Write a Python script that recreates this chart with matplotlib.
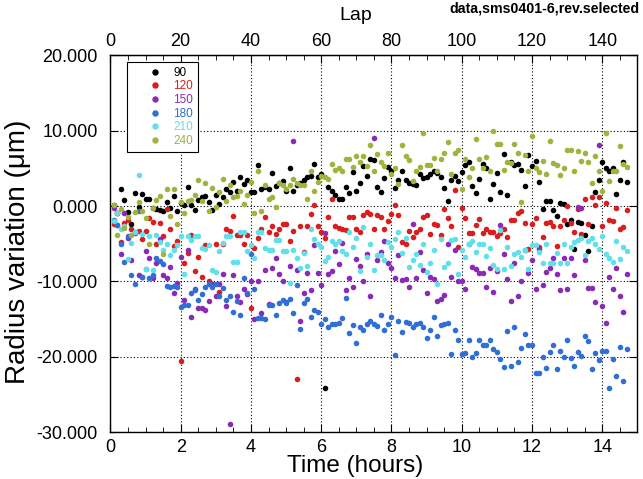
import numpy as np
import matplotlib.pyplot as plt
from matplotlib.ticker import MultipleLocator, FormatStrFormatter
from matplotlib.lines import Line2D

plt.rcParams['font.family'] = ['Liberation Sans', 'DejaVu Sans']
plt.rcParams['axes.unicode_minus'] = False

# one reading per lap, lap 1..147 ; 10 laps per hour
laps = list(range(1, 148))
hours_per_lap = 0.1

s90 = [0.2, -0.9, 2.2, 0.8, -0.8, -2.4, 1.7, -0.1, 1.6, 0.9,
       1.0, -0.2, -0.4, -0.5, -0.6, 0.5, -0.3, 1.3, -0.7, 0.4,
       0.2, 2.5, 0.2, -0.5, 0.8, 1.2, 1.4, 0.6, -0.5, 1.5,
       0.3, 1.2, 2.2, 1.8, 3.2, 2.0, 3.8, 2.9, 3.5, 1.9,
       1.9, 5.4, 2.3, 2.5, 2.3, 4.4, 2.6, 3.0, 3.3, 2.0,
       5.1, 2.0, 2.8, 3.0, 3.5, 3.8, 4.0, 5.6, 3.8, 4.2,
       -24.1, 2.5, 2.0, 1.5, 0.9, 1.0, 2.5, 1.7, 4.5, 2.0,
       3.0, 5.3, 4.0, 6.2, 6.1, 2.55, 1.8, 3.7, 5.25, 4.6,
       2.4, 3.5, 4.6, 3.5, 3.0, 2.9, 2.8, 4.3, 3.7, 3.9,
       4.2, 4.6, 4.4, 3.9, 2.4, 0.7, 3.4, 4.0, 3.3, 4.5,
       5.4, 5.8, 2.6, 1.7, 3.6, 5.6, 5.0, 0.9, 2.9, 4.4,
       1.9, 6.9, 1.5, 5.9, 5.4, 5.6, 4.8, 2.6, 6.8, 5.3,
       6.0, 3.2, -0.4, 0.7, 0.7, -0.5, -1.3, 0.4, 0.3, -2.4,
       -1.9, -5.7, -2.1, -2.2, -3.9, -6.0, -2.7, 1.9, 3.4, 5.8,
       5.0, 4.7, 5.1, 1.6, 3.5, 5.8, 3.2]

s120 = [-2.4, -0.9, -4.8, -2.3, -1.9, -3.0, -3.6, -3.3, -4.4, -3.3,
        -1.6, -2.1, -5.0, -2.2, -4.0, -0.4, -3.1, -5.3, -4.6, -20.6,
        -7.5, -6.2, -3.9, -8.6, -6.7, -9.4, -5.2, -9.9, -10.3, -5.1,
        -11.4, -5.1, -3.1, -3.3, -1.3, -3.8, -3.8, -5.0, -3.8, -13.6,
        -5.6, -4.2, -3.1, -1.5, -3.4, -2.6, -3.7, -3.0, -2.4, -2.4,
        -4.6, -3.3, -23.0, -2.6, -6.1, -2.6, -1.1, 0.2, -2.7, -3.5,
        -4.2, -1.5, 0.9, -2.7, -2.9, -3.0, -3.2, -1.4, -1.4, -3.1,
        -3.4, -1.2, -0.8, -1.1, -3.0, -1.2, -1.5, -3.0, -2.0, -1.1,
        0.2, -1.2, -4.8, -5.0, -3.3, -4.1, -3.4, -3.1, -1.5, -1.2,
        -3.7, -2.4, -2.5, -3.9, -0.4, -1.6, -2.7, 2.1, -5.5, -0.2,
        -1.6, -3.6, -3.6, -2.5, -1.7, -3.6, -3.0, -3.4, -3.5, -4.0,
        -3.6, -3.0, -4.1, -1.9, -1.9, -0.9, -0.7, -2.3, -5.7, -2.4,
        -1.6, -5.5, -4.1, -2.2, -2.1, -2.7, -5.3, -2.6, -1.9, 0.0,
        -2.3, -3.4, -0.4, -3.7, 1.0, -2.4, 1.2, 0.2, 1.2, -2.6,
        0.4, -1.8, -2.0, -0.2, -3.0, -2.8, -0.5]

s150 = [-0.2, -2.5, -6.3, -0.9, -4.2, -7.2, -3.5, -9.1, -9.4, -6.0,
        -6.9, -9.6, -7.5, -4.4, -9.1, -9.6, -8.1, -11.6, -10.2, -6.8,
        -12.5, -5.9, -14.7, -11.0, -13.6, -13.6, -13.8, -12.6, -10.4, -12.0,
        -10.3, -9.0, -13.3, -29.0, -9.2, -12.0, -12.7, -11.0, -11.7, -10.0,
        -15.0, -9.9, -14.2, -8.5, -13.0, -8.2, -6.9, -9.0, -9.9, -12.8,
        -8.0, 8.6, -8.5, -15.3, -11.6, -8.9, -11.2, -5.2, -8.9, -10.5,
        -3.6, -9.0, -8.6, -6.0, -7.7, -4.9, -11.2, -9.5, -10.7, -7.0,
        -8.0, -9.9, -6.3, -12.0, 9.0, -7.2, -6.1, -4.7, -7.5, -8.2,
        -9.5, -6.5, -9.8, -9.7, -10.8, -2.4, -9.5, -6.1, -8.5, -11.5,
        -9.4, -9.7, -12.6, -12.3, -11.8, -5.1, -9.4, -5.8, -10.0, -10.0,
        -11.0, -5.0, -8.1, -8.4, -8.9, -8.9, -10.8, -8.2, -11.4, -8.6,
        -2.5, -6.4, -9.7, -12.6, -7.5, -12.0, -9.9, -5.8, -8.9, -7.1,
        -11.0, -5.7, -10.5, -8.8, -8.2, -6.9, -9.0, -11.1, -6.9, -11.0,
        -6.9, -9.1, -0.1, -0.3, -7.2, -10.9, -10.9, -12.8, 8.1, -13.3,
        -15.5, -9.4, -11.0, -8.2, -12.0, -14.0, -9.0]

s180 = [-1.8, -2.5, -5.0, -7.4, -4.0, -9.2, -10.3, -0.6, -9.4, -8.3,
        -9.5, -9.2, -6.9, -7.3, -7.7, -10.6, -10.7, -10.6, -10.7, -13.4,
        -13.2, -13.2, -11.5, -11.1, -12.5, -11.7, -10.7, -10.4, -10.7, -10.4,
        -12.0, -10.9, -12.5, -11.9, -14.0, -12.6, -14.5, -9.6, -11.6, -6.3,
        -11.0, -14.9, -14.9, -15.0, -13.2, -13.2, -14.4, -12.9, -12.5, -12.9,
        -12.3, -14.2, -10.5, -16.3, -12.9, -12.4, -14.7, -13.8, -14.0, -15.7,
        -15.0, -16.0, -15.7, -15.6, -15.5, -14.9, -12.2, -16.9, -15.8, -18.2,
        -16.0, -16.5, -15.6, -15.3, -15.7, -15.9, -14.4, -16.4, -15.6, -14.7,
        -19.8, -15.2, -16.7, -15.4, -15.5, -16.1, -15.7, -15.5, -16.1, -17.5,
        -16.5, -14.7, -17.3, -15.8, -15.6, -15.5, -19.6, -16.5, -17.8, -19.7,
        -19.5, -17.8, -20.0, -19.5, -17.8, -18.5, -18.5, -17.8, -19.0, -19.4,
        -20.3, -21.4, -16.6, -21.2, -16.1, -20.7, -18.9, -17.0, -18.5, -18.5,
        -22.1, -22.2, -20.0, -21.5, -19.4, -18.5, -21.7, -19.3, -20.0, -17.8,
        -20.2, -21.2, -19.4, -19.9, -17.3, -17.9, -21.7, -19.5, -20.5, -19.3,
        -19.3, -24.1, -20.3, -22.6, -18.7, -23.2, -19.0]

s210 = [-2.0, -0.9, -3.0, -2.6, -7.0, -4.9, -3.5, 4.1, -3.7, -8.3,
        -4.0, -8.5, -3.9, -4.8, -5.8, -5.0, -6.5, -5.8, -5.2, -4.0,
        -9.0, -4.0, -4.5, -4.0, -4.0, -5.6, -5.7, -5.2, -8.5, -8.8,
        -6.0, -4.9, -4.0, -4.0, -7.4, -7.4, -3.4, -3.4, -6.0, -5.2,
        -6.9, -3.5, -3.5, -5.6, -5.8, -5.8, -4.5, -4.5, -6.0, -6.0,
        -10.2, -5.8, -6.9, -8.2, -6.2, -7.9, -3.1, -4.4, -5.0, -5.5,
        -7.3, -6.7, -4.7, -5.1, -4.6, -6.0, -6.3, -3.5, -5.5, -4.2,
        -8.6, -2.8, -6.8, -5.0, -8.5, -6.5, -6.5, -7.1, -4.8, -5.5,
        -4.4, -3.4, -6.2, -4.3, -8.1, -7.2, -6.3, -7.8, -5.0, -8.8,
        -7.5, -5.9, -10.3, -4.4, -8.1, -7.5, -4.5, -4.4, -9.0, -5.9,
        -6.8, -5.1, -4.6, -6.1, -5.0, -5.1, -6.6, -5.6, -7.8, -8.3,
        -3.2, -8.4, -5.4, -8.0, -6.3, -6.1, -6.8, -5.9, -8.4, -5.2,
        -5.2, -6.1, -7.6, -5.0, -7.5, -7.6, -6.2, -7.6, -5.1, -7.5,
        -5.5, -4.8, -4.5, -4.2, -6.5, -4.6, -4.2, -5.0, -5.7, -4.0,
        -6.4, -6.9, -7.4, -4.6, -7.0, -5.5, -6.0]

s240 = [0.2, -3.8, -0.4, -2.9, -1.5, -3.8, -0.8, 0.5, -0.6, -1.6,
        -5.1, -0.3, 0.8, 1.4, -6.4, 2.2, -1.3, 2.3, -2.4, 0.6,
        -0.9, 0.7, 0.8, 1.5, 3.4, 0.7, 3.1, -0.6, 2.4, -0.1,
        1.8, 3.6, 0.7, 2.8, 1.2, 1.3, 2.0, 0.3, 1.5, 3.2,
        -0.9, 4.7, -0.7, 2.8, 1.0, 1.2, -0.1, 3.1, 2.8, 2.3,
        2.8, 3.6, 3.0, 2.8, 2.8, 0.9, 4.7, 2.0, 3.2, 4.0,
        3.8, 3.6, 5.6, 4.8, 5.0, 4.7, 6.2, 6.2, 5.2, 6.7,
        5.9, 6.7, 5.3, 8.1, 4.7, 6.9, 5.9, 5.3, 7.1, 4.3,
        5.0, 2.9, 8.1, 6.7, 6.1, 3.3, 4.7, 5.2, 9.7, 5.5,
        5.5, 6.4, 4.6, 6.2, 7.0, 8.5, 4.3, 7.0, 7.4, 2.3,
        6.3, 3.8, 5.0, 8.9, 6.2, 5.1, 6.5, 4.6, 10.0, 8.3,
        8.2, 4.8, 5.9, 5.7, 8.2, 7.1, 0.5, 6.8, 4.7, 9.3,
        5.0, 4.5, 6.0, 4.3, 8.6, 5.7, 5.4, 4.1, 5.1, 7.4,
        7.4, 4.6, 7.3, 6.0, 7.1, 5.8, 3.1, 6.6, 4.6, 2.0,
        9.7, 3.3, 4.6, 4.6, 8.0, 5.6, 5.2]

labels = ['90', '120', '150', '180', '210', '240']
colors = ['#000000', '#d81e1e', '#8a2bb8', '#2f6fd6', '#5fe0ea', '#a3b23c']
series = [s90, s120, s150, s180, s210, s240]
lap_ticks = [0, 20, 40, 60, 80, 100, 120, 140]

hours = np.array(laps) * hours_per_lap

fig = plt.figure(figsize=(6.43, 4.79), dpi=100)
ax = fig.add_axes([0.1717, 0.0981, 0.8196, 0.7862])

for vals, c in zip(series, colors):
    ax.scatter(hours, vals, s=16, color=c, linewidths=0, zorder=3)

ax.set_xlim(0, 15)
ax.set_ylim(-30, 20)
ax.xaxis.set_major_locator(MultipleLocator(2))
ax.xaxis.set_minor_locator(MultipleLocator(0.5))
ax.yaxis.set_major_locator(MultipleLocator(10))
ax.yaxis.set_major_formatter(FormatStrFormatter('%.3f'))
ax.grid(True, which='major', color='k', linestyle=(0, (1, 2)), linewidth=0.8)
ax.tick_params(which='both', direction='in', right=True, top=False, labelsize=13)
ax.tick_params(which='major', length=6)
ax.tick_params(which='minor', length=3.5)
ax.tick_params(axis='x', pad=5)
ax.tick_params(axis='y', pad=9)
for sp in ax.spines.values():
    sp.set_linewidth(1.0)

top = ax.secondary_xaxis('top', functions=(lambda t: t / hours_per_lap, lambda l: l * hours_per_lap))
top.set_xticks(lap_ticks)
top.xaxis.set_minor_locator(MultipleLocator(5))
top.tick_params(which='both', direction='in', labelsize=13, pad=4)
top.tick_params(which='major', length=6)
top.tick_params(which='minor', length=3.5)

fig.text(0.552, 0.027, 'Time (hours)', fontsize=17.5, ha='center', va='center')
fig.text(0.028, 0.474, 'Radius variation (\u03bcm)', fontsize=20, rotation=90, ha='center', va='center')
fig.text(0.554, 0.967, 'Lap', fontsize=14, ha='center', va='center')
fig.text(0.995, 0.982, 'data,sms0401-6,rev.selected', fontsize=10.2, fontweight='bold',
         ha='right', va='center')

handles = [Line2D([], [], linestyle='none', marker='o', markersize=3.6, color=c) for c in colors]
leg = ax.legend(handles, labels, loc='upper left', bbox_to_anchor=(0.0315, 0.9825),
                borderaxespad=0, fontsize=8.5, labelcolor='linecolor', frameon=True,
                fancybox=False, edgecolor='k', framealpha=1, handlelength=3.9,
                handletextpad=-0.4, labelspacing=0.14, borderpad=0.4)
leg.get_frame().set_linewidth(0.8)
leg.set_zorder(5)

fig.savefig('out.png', dpi=100)
